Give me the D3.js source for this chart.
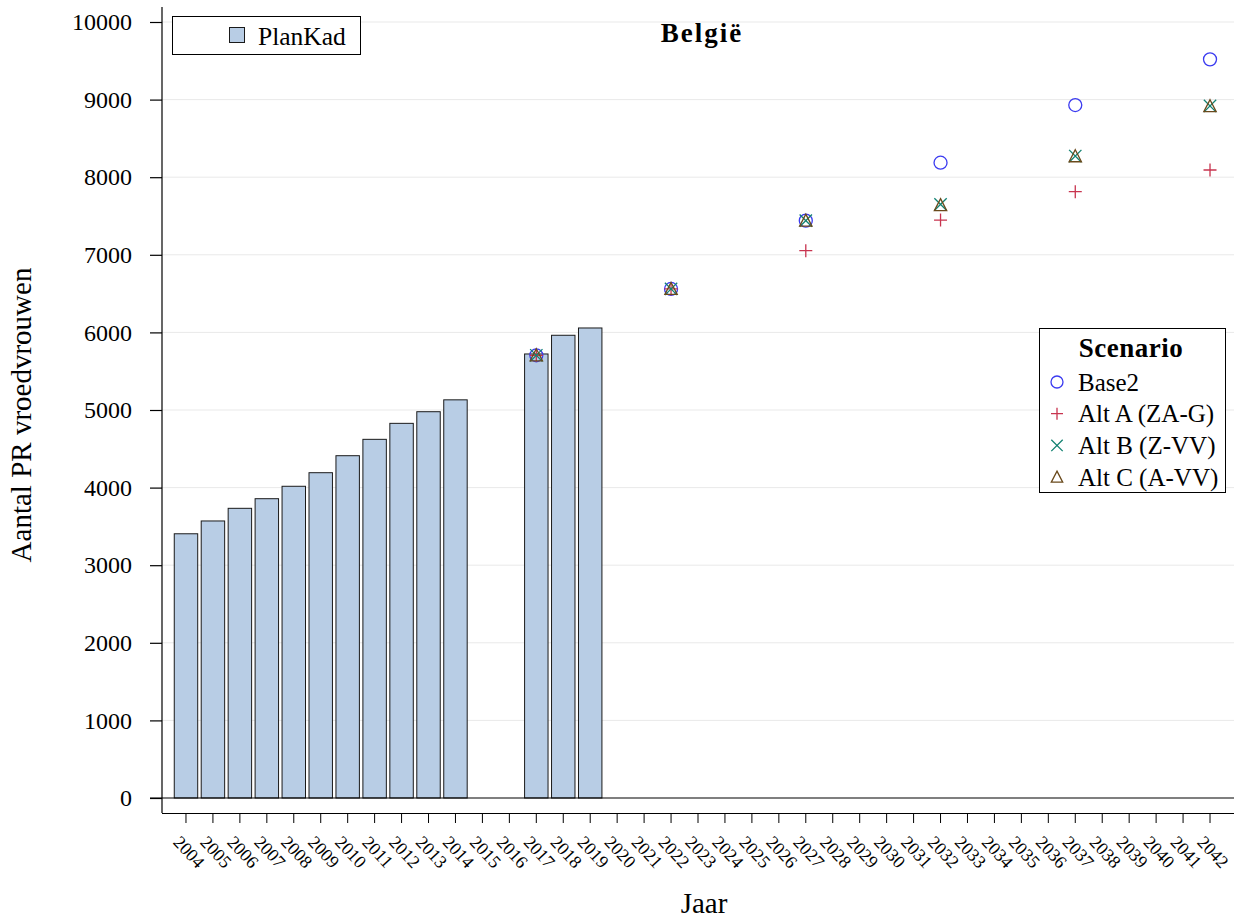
<!DOCTYPE html>
<html>
<head>
<meta charset="utf-8">
<script src="https://cdn.jsdelivr.net/npm/d3@7"></script>
<style>
  html, body { margin: 0; padding: 0; background: #fff; }
  svg { display: block; font-family: "Liberation Serif", "Times New Roman", serif; }
</style>
</head>
<body>
<svg id="chart" width="1245" height="924"></svg>
<script>
// Years on the category axis
const years = d3.range(2004, 2043).map(String);

// Observed PlanKad counts (bars)
const barYears  = ["2004","2005","2006","2007","2008","2009","2010","2011","2012","2013","2014","2017","2018","2019"];
const barValues = [3405, 3570, 3733, 3857, 4017, 4192, 4411, 4622, 4828, 4978, 5131, 5722, 5963, 6057];

// Scenario projections
const scenYears = ["2017","2022","2027","2032","2037","2042"];
const base2 = [5705, 6560, 7440, 8187, 8930, 9519];
const altA  = [5705, 6560, 7053, 7448, 7813, 8093];
const altB  = [5705, 6560, 7440, 7650, 8273, 8918];
const altC  = [5705, 6560, 7440, 7640, 8270, 8915];

const yTicks = d3.range(0, 10001, 1000);

const scenarios = [
  { name: "Base2",        values: base2, shape: "circle",   color: "#3b3bf0" },
  { name: "Alt A (ZA-G)", values: altA,  shape: "plus",     color: "#c8344f" },
  { name: "Alt B (Z-VV)", values: altB,  shape: "cross",    color: "#138272" },
  { name: "Alt C (A-VV)", values: altC,  shape: "triangle", color: "#6a4a1c" }
];

const svg = d3.select("#chart");
const plotL = 162, plotR = 1234, plotT = 22, plotB = 798, axisY = 813;
const serif = "Liberation Serif, Times New Roman, serif";

const x = d3.scaleBand().domain(years).range([plotL, plotR]).paddingInner(0.13).paddingOuter(0.455);
const y = d3.scaleLinear().domain([0, 10000]).range([plotB, plotT]);

// Horizontal gridlines
svg.append("g").selectAll("line").data(yTicks.filter(d => d > 0)).join("line")
  .attr("x1", plotL).attr("x2", plotR)
  .attr("y1", d => y(d)).attr("y2", d => y(d))
  .attr("stroke", "#e9e9e9").attr("stroke-width", 1);

// Bars
svg.append("g").selectAll("rect").data(barYears.map((yr, i) => ({ yr, v: barValues[i] }))).join("rect")
  .attr("x", d => x(d.yr)).attr("width", x.bandwidth())
  .attr("y", d => y(d.v)).attr("height", d => y(0) - y(d.v))
  .attr("fill", "#b8cde5").attr("stroke", "#1a1a1a").attr("stroke-width", 1);

// Baseline at zero
svg.append("line").attr("x1", plotL - 12).attr("x2", plotR)
  .attr("y1", y(0)).attr("y2", y(0)).attr("stroke", "#000").attr("stroke-width", 1.2);

// Y axis
const yAxis = d3.axisLeft(y).tickValues(yTicks).tickSize(12).tickPadding(18).tickFormat(d3.format("d"));
const gy = svg.append("g").attr("transform", `translate(${plotL},0)`).call(yAxis);
gy.select(".domain").remove();
gy.append("line").attr("x1", 0).attr("x2", 0).attr("y1", 7).attr("y2", axisY).attr("stroke", "#000").attr("stroke-width", 1.2);
gy.selectAll(".tick line").attr("stroke", "#000").attr("stroke-width", 1.2);
gy.selectAll(".tick text").attr("font-size", 24).attr("fill", "#000").attr("font-family", serif);

// X axis (offset below the bars)
const xAxis = d3.axisBottom(x).tickSize(10).tickSizeOuter(0);
const gx = svg.append("g").attr("transform", `translate(0,${axisY})`).call(xAxis);
gx.select(".domain").attr("d", `M${plotL},0.5H${plotR}`).attr("stroke", "#000").attr("stroke-width", 1.2);
gx.selectAll(".tick line").attr("stroke", "#000");
gx.selectAll(".tick text")
  .attr("font-size", 18).attr("fill", "#000").attr("font-family", serif)
  .attr("text-anchor", "middle").attr("dy", null).attr("y", null)
  .attr("dominant-baseline", "central")
  .attr("transform", "translate(3,39) rotate(47)");

// Marker drawing
function drawMarker(g, shape, color, r) {
  if (shape === "circle") {
    g.append("circle").attr("r", r).attr("fill", "none").attr("stroke", color).attr("stroke-width", 1.3);
  } else if (shape === "plus") {
    g.append("path").attr("d", `M${-r},0H${r}M0,${-r}V${r}`).attr("stroke", color).attr("stroke-width", 1.3).attr("fill", "none");
  } else if (shape === "cross") {
    const s = r * 0.95;
    g.append("path").attr("d", `M${-s},${-s}L${s},${s}M${-s},${s}L${s},${-s}`).attr("stroke", color).attr("stroke-width", 1.3).attr("fill", "none");
  } else if (shape === "triangle") {
    g.append("path").attr("d", `M0,${-r}L${r * 0.95},${r * 0.85}H${-r * 0.95}Z`).attr("stroke", color).attr("stroke-width", 1.3).attr("fill", "none");
  }
}

// Scenario points
scenarios.forEach(s => {
  const gs = svg.append("g");
  scenYears.forEach((yr, i) => {
    const g = gs.append("g").attr("transform", `translate(${x(yr) + x.bandwidth() / 2},${y(s.values[i])})`);
    drawMarker(g, s.shape, s.color, 6.5);
  });
});

// Title
svg.append("text").attr("x", 702).attr("y", 42).attr("text-anchor", "middle")
  .attr("font-size", 27).attr("font-weight", "bold").attr("letter-spacing", 2).text("België");

// Axis titles
svg.append("text").attr("transform", "translate(31,415) rotate(-90)").attr("text-anchor", "middle")
  .attr("font-size", 29).text("Aantal PR vroedvrouwen");
svg.append("text").attr("x", 704).attr("y", 913).attr("text-anchor", "middle")
  .attr("font-size", 29).text("Jaar");

// PlanKad legend
const lg1 = svg.append("g");
lg1.append("rect").attr("x", 172.5).attr("y", 16.5).attr("width", 188).attr("height", 38)
  .attr("fill", "#fff").attr("stroke", "#000").attr("stroke-width", 1);
lg1.append("rect").attr("x", 229.5).attr("y", 27.5).attr("width", 15).attr("height", 15)
  .attr("fill", "#b8cde5").attr("stroke", "#1a1a1a");
lg1.append("text").attr("x", 258).attr("y", 45).attr("font-size", 25.5).text("PlanKad");

// Scenario legend
const lg2 = svg.append("g");
lg2.append("rect").attr("x", 1039.5).attr("y", 328.5).attr("width", 186).attr("height", 164)
  .attr("fill", "#fff").attr("stroke", "#000").attr("stroke-width", 1);
lg2.append("text").attr("x", 1131).attr("y", 357).attr("text-anchor", "middle")
  .attr("font-size", 27).attr("font-weight", "bold").attr("letter-spacing", 0.5).text("Scenario");
scenarios.forEach((s, i) => {
  const cy = 382 + i * 31.7;
  const g = lg2.append("g").attr("transform", `translate(1057,${cy})`);
  drawMarker(g, s.shape, s.color, 6);
  lg2.append("text").attr("x", 1078).attr("y", cy + 8.5)
    .attr("font-size", 25).text(s.name);
});
</script>
</body>
</html>
